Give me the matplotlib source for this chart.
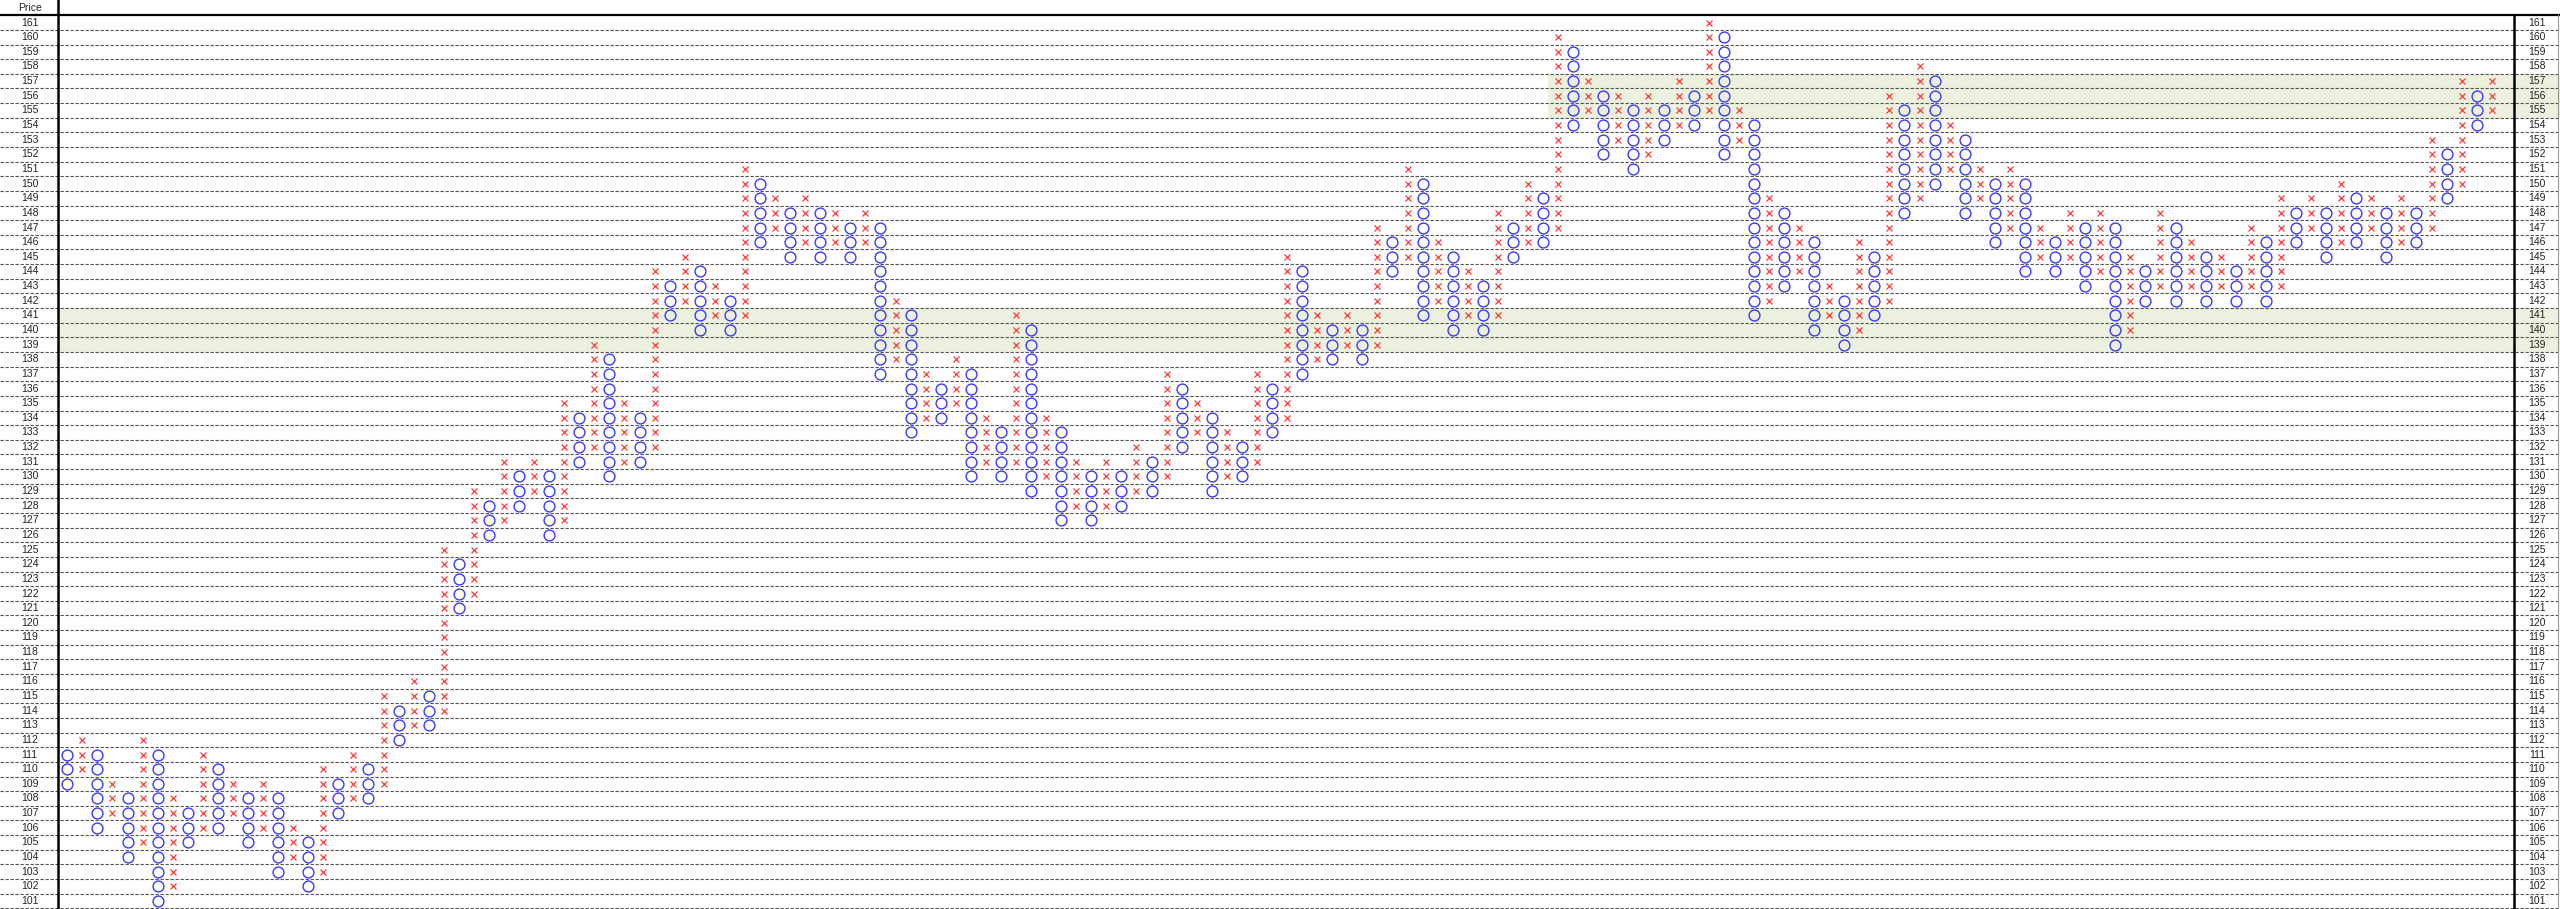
import numpy as np
import matplotlib
matplotlib.use("Agg")
import matplotlib.pyplot as plt

# point & figure columns, alternating O / X starting with O
first_col = "O"
col_low = [109, 110, 106, 107, 104, 105, 101, 102, 105, 106,
           106, 107, 105, 106, 103, 104, 102, 103, 107, 108,
           108, 109, 112, 113, 113, 114, 121, 122, 126, 127,
           128, 129, 126, 127, 131, 132, 130, 131, 131, 132,
           141, 142, 140, 141, 140, 141, 146, 147, 145, 146,
           145, 146, 145, 146, 137, 138, 133, 134, 134, 135,
           130, 131, 130, 131, 129, 130, 127, 128, 127, 128,
           128, 129, 129, 130, 132, 133, 129, 130, 130, 131,
           133, 134, 137, 138, 138, 139, 138, 139, 144, 145,
           141, 142, 140, 141, 140, 141, 145, 146, 146, 147,
           154, 155, 152, 153, 151, 152, 153, 154, 154, 155,
           152, 153, 141, 142, 143, 144, 140, 141, 139, 140,
           141, 142, 148, 149, 150, 151, 148, 149, 146, 147,
           144, 145, 144, 145, 143, 144, 139, 140, 142, 143,
           142, 143, 142, 143, 142, 143, 142, 143, 146, 147,
           145, 146, 146, 147, 145, 146, 146, 147, 149, 150,
           154, 155]
col_high = [111, 112, 111, 109, 108, 112, 111, 108, 107, 111,
            110, 109, 108, 109, 108, 106, 105, 110, 109, 111,
            110, 115, 114, 116, 115, 125, 124, 129, 128, 131,
            130, 131, 130, 135, 134, 139, 138, 135, 134, 144,
            143, 145, 144, 143, 142, 151, 150, 149, 148, 149,
            148, 148, 147, 148, 147, 142, 141, 137, 136, 138,
            137, 134, 133, 141, 140, 134, 133, 131, 130, 131,
            130, 132, 131, 137, 136, 135, 134, 133, 132, 137,
            136, 145, 144, 141, 140, 141, 140, 147, 146, 151,
            150, 146, 145, 144, 143, 148, 147, 150, 149, 160,
            159, 157, 156, 156, 155, 156, 155, 157, 156, 161,
            160, 155, 154, 149, 148, 147, 146, 143, 142, 146,
            145, 156, 155, 158, 157, 154, 153, 151, 150, 151,
            150, 147, 146, 148, 147, 148, 147, 145, 144, 148,
            147, 146, 145, 145, 144, 147, 146, 149, 148, 149,
            148, 150, 149, 149, 148, 149, 148, 153, 152, 157,
            156, 157]
price_min = 101
price_max = 161
# shaded price zones: (low, high, first column)
bands = [(139, 141, -0.62), (155, 157, 98.3)]

xs, ys, os_x, os_y = [], [], [], []
for i, (lo, hi) in enumerate(zip(col_low, col_high)):
    is_o = (i % 2 == 0) == (first_col == "O")
    for p in range(lo, hi + 1):
        if is_o:
            os_x.append(i); os_y.append(p)
        else:
            xs.append(i); ys.append(p)

n = len(col_low)
fig = plt.figure(figsize=(25.6, 9.09), dpi=100)
ax = fig.add_axes([0, 0, 1, 1])
x0, x1 = -4.47, 165.53
ax.set_xlim(x0, x1)
ax.set_ylim(100.45, 162.54)
ax.axis("off")

left_edge, right_edge = -0.62, 162.5

for lo, hi, start in bands:
    ax.fill_between([start, x1], lo - 0.5, hi + 0.5, color="#ebf1de", lw=0, zorder=0)

for r in range(price_min - 1, price_max):
    ax.plot([x0, x1], [r + 0.5, r + 0.5], color="#555555", lw=0.8,
            ls=(0, (3, 1.5)), zorder=1)

ax.plot([x0, x1], [price_max + 0.5] * 2, color="black", lw=1.6, zorder=3)
ax.plot([left_edge] * 2, [100.45, 162.54], color="black", lw=1.8, zorder=3)
ax.plot([right_edge] * 2, [100.45, price_max + 0.5], color="black", lw=1.8, zorder=3)
ax.plot([165.4] * 2, [100.45, price_max + 0.5], color="#999999", lw=0.8, zorder=3)

ax.plot(os_x, os_y, ls="none", marker="o", ms=7.8, mfc="none", mec="#3a3aff",
        mew=1.0, zorder=4)
ax.plot(xs, ys, ls="none", marker="x", ms=4.3, color="#ff3a3a", mew=0.9, zorder=4)

for p in range(price_min, price_max + 1):
    ax.text(-2.5, p, str(p), ha="center", va="center", fontsize=7.5,
            family="Liberation Sans", color="#222222")
    ax.text(164.0, p, str(p), ha="center", va="center", fontsize=7.5,
            family="Liberation Sans", color="#222222")
ax.text(-2.5, 162.0, "Price", ha="center", va="center", fontsize=7.5,
        family="Liberation Sans", color="#222222")

fig.savefig("out.png", dpi=100)
